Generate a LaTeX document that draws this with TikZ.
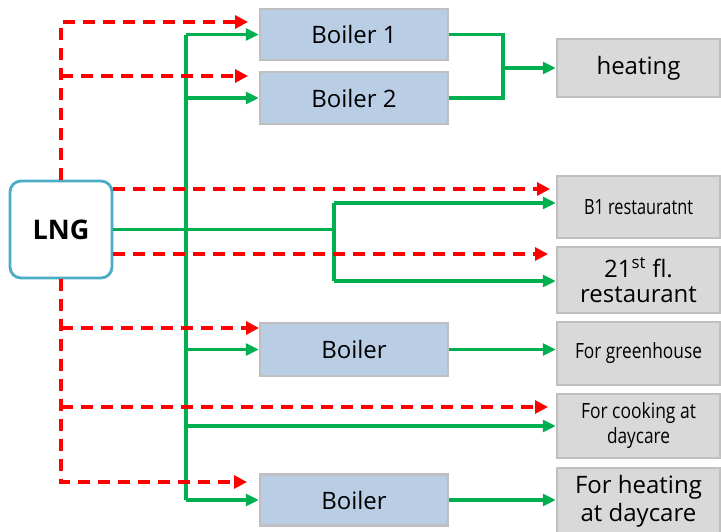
\documentclass[tikz,border=0pt]{standalone}
\usepackage{fontspec}
\usepackage{graphicx}
\setmainfont{Open Sans}
\usetikzlibrary{arrows.meta,calc}
\definecolor{gasred}{HTML}{FF0000}
\definecolor{flowgreen}{HTML}{00B050}
\definecolor{boilerblue}{HTML}{B9CDE5}
\definecolor{usegray}{HTML}{D9D9D9}
\definecolor{boxgray}{HTML}{BFBFBF}
\definecolor{lngblue}{HTML}{4BACC6}
\begin{document}
\begin{tikzpicture}[x=1pt,y=-1pt,
  font=\fontsize{24}{28}\selectfont,
  tight/.style={font=\fontsize{21}{27}\selectfont},
  bluebox/.style={draw=boxgray, fill=boilerblue, line width=2.5pt,
    minimum width=188pt, inner sep=0pt},
  graybox/.style={draw=boxgray, fill=usegray, line width=2.5pt,
    minimum width=163pt, inner sep=0pt, align=center},
  gas/.style={draw=gasred, line width=3.1pt, dash pattern=on 12pt off 8pt,
    -{Triangle[length=13pt,width=13pt]}},
  flow/.style={draw=flowgreen, line width=3.1pt,
    -{Triangle[length=13pt,width=12pt]}},
  pipe/.style={draw=flowgreen, line width=3.1pt},
]
\useasboundingbox[fill=white] (0,0) rectangle (721,531);

% source
\node[draw=lngblue, line width=2.8pt, rounded corners=11pt, fill=white,
  minimum width=102pt, minimum height=97pt, inner sep=0pt,
  font=\fontsize{27}{30}\selectfont\bfseries] (lng) at (61,229.5) {LNG};

% boilers
\node[bluebox, minimum height=51pt] (b1) at (354,34.5) {Boiler 1};
\node[bluebox, minimum height=52pt] (b2) at (354,98) {Boiler 2};
\node[bluebox, minimum height=53pt] (b3) at (354,349.5) {Boiler};
\node[bluebox, minimum height=51pt] (b4) at (354,500) {Boiler};

% end uses
\node[graybox, minimum height=58pt] (heat) at (638.5,68) {heating};
\node[graybox, tight, minimum height=62pt] (rB1) at (638.5,207)
  {\resizebox{109pt}{\height}{B1 restauratnt}};
\node[graybox, minimum height=66pt] (r21) at (638.5,280)
  {21\textsuperscript{st} fl.\\[-3pt]restaurant};
\node[graybox, tight, minimum height=63pt] (gh) at (638.5,353.5)
  {\resizebox{127pt}{\height}{For greenhouse}};
\node[graybox, tight, minimum height=64pt] (cook) at (638.5,426)
  {\resizebox{115pt}{\height}{For cooking at}\\[-2pt]\resizebox{63pt}{\height}{daycare}};
\node[graybox, minimum height=66pt] (dheat) at (638.5,501)
  {For heating\\at daycare};

% supply lines (green)
\coordinate (trunk) at (186,0);
\draw[pipe] (trunk |- b1.west) -- (trunk |- b4.west);
\draw[flow] (trunk |- b1.west) -- (b1.west);
\draw[flow] (trunk |- b2.west) -- (b2.west);
\draw[flow] (trunk |- b3.west) -- (b3.west);
\draw[flow] (trunk |- cook.west) -- (cook.west);
\draw[flow] (trunk |- b4.west) -- (b4.west);

\coordinate (split) at (334,229.5);
\coordinate (sB1) at (334,203);
\coordinate (s21) at (334,281);
\draw[pipe] (lng.east) -- (split);
\draw[pipe] (sB1) -- (s21);
\draw[flow] (sB1) -- (rB1.west |- sB1);
\draw[flow] (s21) -- (r21.west |- s21);

\coordinate (merge) at (503,68);
\draw[pipe] (b1.east) -| (merge) |- (b2.east);
\draw[flow] (merge) -- (heat.west);
\draw[flow] (b3.east) -- (gh.west |- b3.east);
\draw[flow] (b4.east) -- (dheat.west |- b4.east);

% LNG lines (red dashed)
\coordinate (rA) at (248,22);
\coordinate (rB) at (248,76);
\coordinate (rC) at (550,189);
\coordinate (rD) at (548,254);
\coordinate (rE) at (259,328);
\coordinate (rF) at (548,407);
\coordinate (rG) at (247,482);
\draw[gas] (lng.north) |- (rA);
\draw[gas] (lng.north |- rB) -- (rB);
\draw[gas] (lng.east |- rC) -- (rC);
\draw[gas] (lng.east |- rD) -- (rD);
\draw[gas] (lng.south) |- (rG);
\draw[gas] (lng.south |- rE) -- (rE);
\draw[gas] (lng.south |- rF) -- (rF);
\end{tikzpicture}
\end{document}
